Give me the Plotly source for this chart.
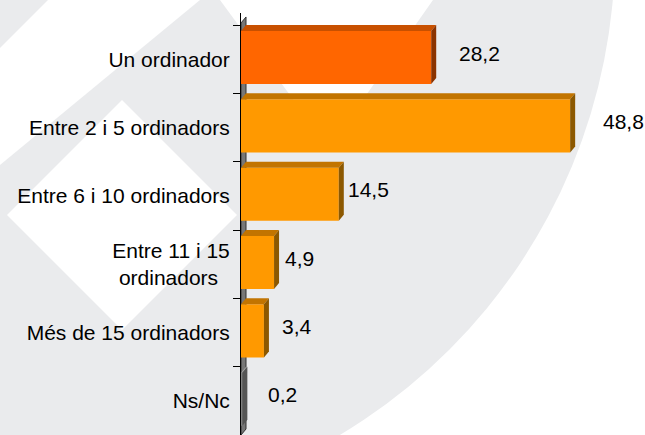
import plotly.graph_objects as go

# data, top to bottom
categories = [
    "Un ordinador",
    "Entre 2 i 5 ordinadors",
    "Entre 6 i 10 ordinadors",
    "Entre 11 i 15<br>ordinadors&nbsp;&nbsp;",
    "Més de 15 ordinadors",
    "Ns/Nc",
]
values = [28.2, 48.8, 14.5, 4.9, 3.4, 0.2]

FRONT = ["#FF6600", "#FF9900", "#FF9900", "#FF9900", "#FF9900", "#7F7F7F"]
TOP = ["#C85000", "#C27400", "#C27400", "#C27400", "#C27400", "#A3A3A3"]
SIDE = ["#8B3300", "#8C5800", "#8C5800", "#8C5800", "#8C5800", "#555555"]
LABEL_DX = [26, 31, 7, 9, 16, 24]   # px nudges for value labels

W, H = 645, 435
L, R, T, B = 241, 0, 13, 0
PW, PH = W - L - R, H - T - B
PX_PER_X = 6.745
PX_PER_Y = 68.33
XMAX = PW / PX_PER_X
YTOP = 5.5 - PH / PX_PER_Y
DX = 5 / PX_PER_X     # 3d depth in data units
DY = 6 / PX_PER_Y
OFF, BW = -0.412, 0.776
BG = "#EAEBED"


def px(x, y):
    return (x - L) / PW, 1 - (y - T) / PH


def poly(points, color):
    pts = [px(x, y) for x, y in points]
    path = "M " + " L ".join(f"{a:.4f},{b:.4f}" for a, b in pts) + " Z"
    return dict(type="path", xref="paper", yref="paper", path=path,
                fillcolor=color, line=dict(width=0), layer="below")


shapes = []
# watermark in the background
shapes.append(dict(type="circle", xref="paper", yref="paper",
                   x0=px(50 - 565, 0)[0], x1=px(50 + 565, 0)[0],
                   y0=px(0, -50 + 565)[1], y1=px(0, -50 - 565)[1],
                   fillcolor=BG, line=dict(width=0), layer="below"))
shapes.append(poly([(48, 0), (200, 0), (0, 165), (0, 48)], "white"))
shapes.append(poly([(220, 0), (433, 0), (329, 148)], "white"))
shapes.append(poly([(122, 100), (237, 215), (122, 330), (7, 215)], "white"))

# side wall of the axis
shapes.append(dict(type="path", xref="x", yref="y", layer="below",
                   path=f"M 0,5.5 L 0,{-0.5 - 0.03} L {DX},{-0.5 - 0.03 - DY} L {DX},{5.5 - DY} Z",
                   fillcolor="#777777", line=dict(color="#333333", width=1)))

# 3d faces of the bars
for i, v in enumerate(values):
    y0 = i + OFF
    y1 = i + OFF + BW
    shapes.append(dict(type="path", xref="x", yref="y", line=dict(width=0),
                       path=f"M 0,{y0} L {v},{y0} L {v + DX},{y0 - DY} L {DX},{y0 - DY} Z",
                       fillcolor=TOP[i]))
    shapes.append(dict(type="path", xref="x", yref="y", line=dict(width=0),
                       path=f"M {v},{y0} L {v + DX},{y0 - DY} L {v + DX},{y1 - DY} L {v},{y1} Z",
                       fillcolor=SIDE[i]))

fig = go.Figure()
fig.add_trace(go.Bar(
    x=values, y=list(range(len(values))), orientation="h",
    width=BW, offset=OFF, marker=dict(color=FRONT, line=dict(width=0)),
    hoverinfo="skip",
))

annotations = []
for i, v in enumerate(values):
    annotations.append(dict(
        x=v, y=i, xref="x", yref="y", text=f"{v:.1f}".replace(".", ","),
        showarrow=False, xanchor="left", yanchor="middle",
        xshift=LABEL_DX[i], yshift=6,
        font=dict(family="Liberation Sans, Arial", size=21, color="black"),
    ))

fig.update_layout(
    width=W, height=H,
    margin=dict(l=L, r=R, t=T, b=B, pad=0),
    paper_bgcolor="white",
    plot_bgcolor="rgba(0,0,0,0)",
    showlegend=False,
    shapes=shapes,
    annotations=annotations,
    font=dict(family="Liberation Sans, Arial", size=21, color="black"),
)
fig.update_xaxes(range=[0, XMAX], visible=False, showgrid=False,
                 zeroline=False, automargin=False)
fig.update_yaxes(
    range=[5.5, YTOP], automargin=False,
    tickvals=list(range(len(categories))), ticktext=categories,
    ticks="outside", ticklen=6, tickcolor="rgba(0,0,0,0)",
    showline=True, linecolor="black", linewidth=1,
    showgrid=False, zeroline=False,
    minor=dict(tickvals=[-0.5, 0.5, 1.5, 2.5, 3.5, 4.5], ticks="outside",
               ticklen=7, tickcolor="black", showgrid=False),
)

fig.write_html("out.html", config={"displayModeBar": False},
               post_script="document.body.style.margin='0';")
